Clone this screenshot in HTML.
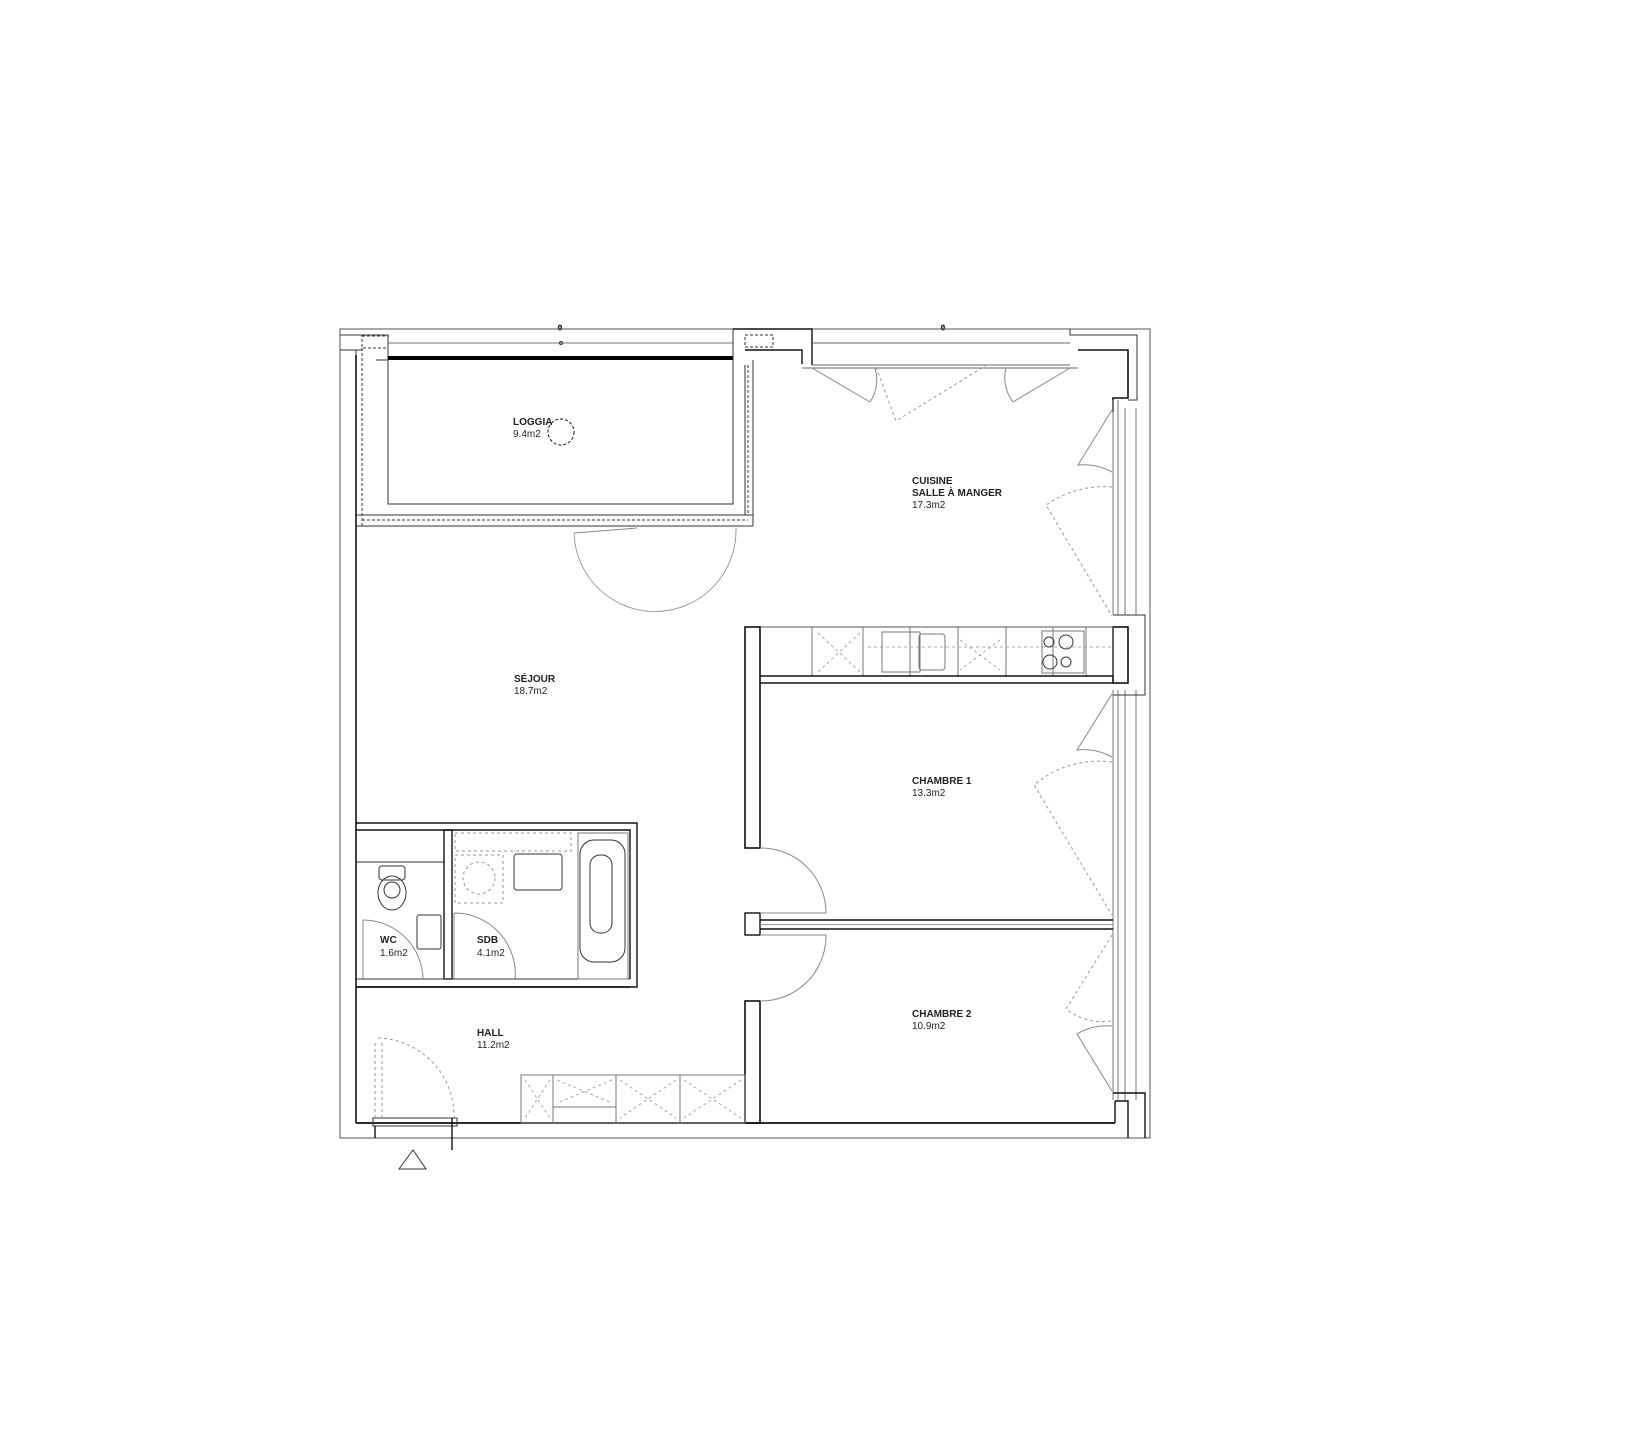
<!DOCTYPE html>
<html><head><meta charset="utf-8"><style>
html,body{margin:0;padding:0;background:#fff;}
svg{display:block;}
text{font-family:"Liberation Sans",Arial,sans-serif;font-size:10px;fill:#222;}
.b{font-weight:bold;}
</style></head><body>
<svg width="1636" height="1440" viewBox="0 0 1636 1440" xmlns="http://www.w3.org/2000/svg">
<g fill="none" stroke="#333" stroke-width="1">
<path d="M340 329 H1150 V1138 H340 Z" stroke="#555"/>
<path d="M356 355 V1123" stroke="#111" stroke-width="1.6"/>
<path d="M340 350 H362 M356 350 V355"/>
<path d="M340 335 H388 V360 H376"/>
<rect x="362" y="336" width="26" height="12" stroke-dasharray="3,2"/>
<path d="M362 348 V526" stroke-dasharray="3,2"/>
<rect x="388" y="358" width="345" height="146"/>
<path d="M388 358 H733" stroke="#000" stroke-width="4"/>
<path d="M388 343 H733" stroke="#777"/>
<circle cx="561" cy="343" r="1.5"/>
<text x="558" y="330" style="font-size:7px">0</text>
<path d="M356 515 H753 M356 526 H753" />
<path d="M362 520 H748" stroke-dasharray="3,2"/>
<path d="M733 329 V504 M753 360 V526 M745 365 V515" />
<path d="M748 365 V515" stroke-dasharray="3,2"/>
<path d="M733 329 H812 V365 M745 350 H802 V364" stroke="#111" stroke-width="1.4"/>
<rect x="745" y="335" width="28" height="12" stroke-dasharray="3,2"/>
<!-- loggia door -->
<path d="M637 528 L574 533" stroke="#888"/>
<path d="M574 533 A81 81 0 0 0 736 528" stroke="#888" stroke-width="0.8"/>
<path d="M812 343 H1070 M812 365 H1070 M802 368 H1078" stroke="#666"/>
<text x="941" y="330" style="font-size:7px">0</text>
<path d="M812 368 L870 402 M1013 402 L1070 368" stroke="#888"/>
<path d="M876 367 L896 421 L990 363" stroke="#999" stroke-dasharray="3,3"/>
<path d="M870 402 A40 40 0 0 0 875 368 M1013 402 A40 40 0 0 1 1006 368" stroke="#888"/>
<path d="M1070 329 V335 H1137 V400 H1128" />
<path d="M1078 350 H1128 V398 H1113 V412" stroke="#111" stroke-width="1.6"/>
<path d="M1113 400 V615 M1118 400 V615 M1136 408 V615 M1125 408 V615" stroke="#777"/>
<path d="M1113 690 V1100 M1118 690 V1100 M1136 690 V1100 M1125 690 V1100" stroke="#777"/>
<path d="M1112 410 L1078 465 A60 60 0 0 1 1112 472" stroke="#888"/>
<path d="M1112 487 A100 100 0 0 0 1046 505 L1112 616" stroke="#999" stroke-dasharray="3,3"/>
<path d="M1113 615 H1145 V695 H1113" />
<rect x="1113" y="627" width="15" height="56" stroke="#111" stroke-width="1.6"/>
<rect x="760" y="627" width="353" height="49" stroke="#555"/>
<path d="M812 627 V676 M863 627 V676 M910 627 V676 M958 627 V676 M1006 627 V676 M1053 627 V676 M1086 627 V676" stroke="#777"/>
<path d="M760 676 H1113 M760 683 H1113" stroke="#111" stroke-width="1.4"/>
<path d="M818 633 L860 672 M860 633 L818 672 M960 640 L1000 670 M1000 640 L960 670 M868 647 H1113" stroke="#aaa" stroke-dasharray="3,3"/>
<rect x="882" y="632" width="38" height="40" stroke="#777"/>
<rect x="919" y="634" width="26" height="36" rx="3" stroke="#777"/>
<circle cx="1049" cy="642" r="5"/><circle cx="1066" cy="642" r="7"/>
<circle cx="1050" cy="662" r="7"/><circle cx="1066" cy="662" r="5"/>
<rect x="1042" y="631" width="42" height="42" stroke="#777"/>
<rect x="745" y="627" width="15" height="221" stroke="#111" stroke-width="1.6"/>
<rect x="745" y="913" width="15" height="22" stroke="#111" stroke-width="1.4"/>
<rect x="745" y="1001" width="15" height="122" stroke="#111" stroke-width="1.6"/>
<path d="M760 848 A65 65 0 0 1 826 913 H760" stroke="#888"/>
<path d="M760 1001 A65 65 0 0 0 826 935 H760" stroke="#888"/>
<path d="M760 920 H1113 M760 929 H1113" stroke="#111" stroke-width="1.4"/>
<path d="M760 924.5 H1113" stroke="#999"/>
<path d="M1112 694 L1077 750 A60 60 0 0 1 1112 757" stroke="#888"/>
<path d="M1112 762 A100 100 0 0 0 1034 785 L1112 915" stroke="#999" stroke-dasharray="3,3"/>
<path d="M1112 935 L1066 1009 A60 60 0 0 0 1112 1021" stroke="#999" stroke-dasharray="3,3"/>
<path d="M1112 1026 A60 60 0 0 0 1077 1034 L1112 1091" stroke="#888"/>
<path d="M1113 1093 H1145 V1138 M1115 1101 H1128 V1138 M1115 1101 V1123" stroke="#111" stroke-width="1.4"/>
<path d="M356 1123 H1115" stroke="#111" stroke-width="1.8"/>
<path d="M356 823 H637 V987 H356 M356 830 H630 V979" stroke="#111" stroke-width="1.4"/>
<rect x="444" y="830" width="8" height="149" stroke="#111" stroke-width="1.4"/>
<path d="M356 862 H444 M356 979 H630" stroke="#333"/>
<path d="M356 987 H630" stroke="#111" stroke-width="1.4"/>
<rect x="379" y="866" width="26" height="14" rx="3"/>
<ellipse cx="392" cy="893" rx="14" ry="17"/>
<ellipse cx="392" cy="890" rx="8" ry="8"/>
<rect x="417" y="915" width="24" height="34" rx="2"/>
<path d="M363 920 A60 60 0 0 1 423 980 M363 920 V980" stroke="#888"/>
<rect x="455" y="833" width="116" height="18" stroke="#999" stroke-dasharray="3,3"/>
<rect x="455" y="855" width="48" height="48" stroke="#999" stroke-dasharray="3,3"/>
<circle cx="479" cy="878" r="16" stroke="#999" stroke-dasharray="3,3"/>
<rect x="514" y="854" width="48" height="36" rx="3"/>
<rect x="578" y="833" width="50" height="146" stroke="#777"/>
<rect x="580" y="840" width="45" height="122" rx="14"/>
<rect x="590" y="855" width="22" height="78" rx="10"/>
<path d="M454 913 A61 61 0 0 1 515 980 M454 913 V980" stroke="#888"/>
<rect x="521" y="1075" width="224" height="48" stroke="#777"/>
<path d="M553 1075 V1123 M616 1075 V1123 M680 1075 V1123 M553 1107 H616" stroke="#777"/>
<path d="M525 1080 L550 1118 M550 1080 L525 1118 M557 1080 L612 1103 M612 1080 L557 1103 M620 1080 L676 1118 M676 1080 L620 1118 M684 1080 L741 1118 M741 1080 L684 1118" stroke="#aaa" stroke-dasharray="3,3"/>
<path d="M373 1118 H457 V1126 H373 Z" />
<path d="M375 1118 V1040 M382 1118 V1040" stroke="#999" stroke-dasharray="3,3"/>
<path d="M378 1038 A78 78 0 0 1 454 1118" stroke="#999" stroke-dasharray="3,3"/>
<path d="M375 1126 V1138 M452 1118 V1150" stroke="#111" stroke-width="1.4"/>
<path d="M399 1169 L413 1150 L426 1169 Z" stroke="#333"/>
<circle cx="561" cy="432" r="13" stroke="#111" stroke-dasharray="3,2"/>
</g>
<text class="b" x="513" y="425">LOGGIA</text>
<text x="513" y="437">9.4m2</text>
<text class="b" x="912" y="484">CUISINE</text>
<text class="b" x="912" y="496">SALLE À MANGER</text>
<text x="912" y="508">17.3m2</text>
<text class="b" x="514" y="682">SÉJOUR</text>
<text x="514" y="694">18.7m2</text>
<text class="b" x="912" y="784">CHAMBRE 1</text>
<text x="912" y="796">13.3m2</text>
<text class="b" x="912" y="1017">CHAMBRE 2</text>
<text x="912" y="1029">10.9m2</text>
<text class="b" x="380" y="943">WC</text>
<text x="380" y="956">1.6m2</text>
<text class="b" x="477" y="943">SDB</text>
<text x="477" y="956">4.1m2</text>
<text class="b" x="477" y="1036">HALL</text>
<text x="477" y="1048">11.2m2</text>
</svg>
</body></html>
